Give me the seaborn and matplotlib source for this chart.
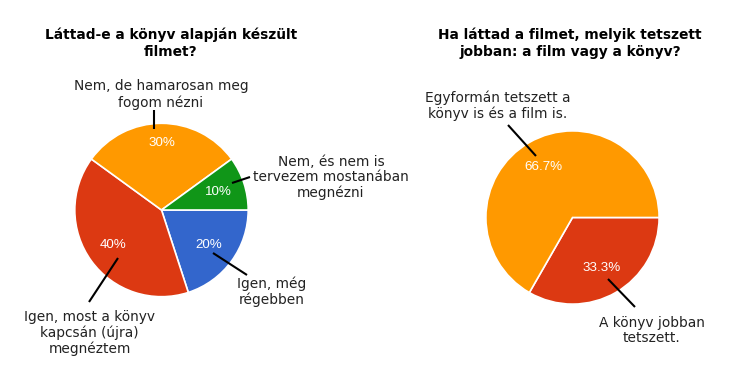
import math
import matplotlib
matplotlib.use("Agg")
import matplotlib.pyplot as plt
import seaborn as sns

# ---- data ----
q1_title = "Láttad-e a könyv alapján készült\nfilmet?"
q1_labels = ["Igen, még\nrégebben",
             "Igen, most a könyv\nkapcsán (újra)\nmegnéztem",
             "Nem, de hamarosan meg\nfogom nézni",
             "Nem, és nem is\ntervezem mostanában\nmegnézni"]
q1_values = [20, 40, 30, 10]
q1_colors = ["#3366CC", "#DC3912", "#FF9900", "#109618"]

q2_title = "Ha láttad a filmet, melyik tetszett\njobban: a film vagy a könyv?"
q2_labels = ["A könyv jobban\ntetszett.",
             "Egyformán tetszett a\nkönyv is és a film is."]
q2_values = [33.3, 66.7]
q2_colors = ["#DC3912", "#FF9900"]

# ---- layout (pixels, y down) ----
W, H = 735, 385
sns.set_theme(style="white")
plt.rcParams['font.family'] = ['DejaVu Sans']

fig = plt.figure(figsize=(W / 100, H / 100), dpi=100)
ax = fig.add_axes([0, 0, 1, 1])


def P(x, y):
    return (x, H - y)


charts = [
    dict(title=q1_title, title_pos=(171, 43.5), values=q1_values, labels=q1_labels,
         colors=q1_colors, center=(161.5, 210), r=86.7, fmt="%.0f%%",
         pct_dist=[0.68, 0.69, 0.77, 0.69],
         label_pos=[(272, 292), (89.5, 333), (161, 94.5), (331, 177.5)],
         leaders=[((213, 253), (247, 275)), ((118, 258), (89, 302)),
                  ((154.5, 110), (154.5, 129)), ((232, 183), (250, 177))]),
    dict(title=q2_title, title_pos=(570, 43.5), values=q2_values, labels=q2_labels,
         colors=q2_colors, center=(572.5, 217.5), r=86.6, fmt="%.1f%%",
         pct_dist=[0.67, 0.67],
         label_pos=[(652, 330.5), (498, 105.5)],
         leaders=[((608, 279), (635, 307)), ((508, 125), (536, 156))]),
]

for c in charts:
    wedges, _, autotexts = ax.pie(
        c["values"], colors=c["colors"], startangle=0, counterclock=False,
        center=P(*c["center"]), radius=c["r"], autopct=c["fmt"],
        pctdistance=0.68, wedgeprops=dict(edgecolor="white", linewidth=1.2),
        textprops=dict(color="white", fontsize=9.6, family="Liberation Sans"))
    cx, cy = P(*c["center"])
    for w, t, d in zip(wedges, autotexts, c["pct_dist"]):
        ang = math.radians((w.theta1 + w.theta2) / 2)
        t.set_position((cx + d * c["r"] * math.cos(ang), cy + d * c["r"] * math.sin(ang)))
        t.set_va("center")
        t.set_ha("center")
    for lab, pos in zip(c["labels"], c["label_pos"]):
        ax.text(*P(*pos), lab, ha="center", va="center", fontsize=9.9,
                color="#222222", linespacing=1.15)
    for (a, b) in c["leaders"]:
        ax.plot([P(*a)[0], P(*b)[0]], [P(*a)[1], P(*b)[1]], color="black", lw=1.5,
                solid_capstyle="butt")
    ax.text(*P(*c["title_pos"]), c["title"], ha="center", va="center",
            fontsize=9.9, fontweight="bold", color="black", linespacing=1.25)

ax.set_xlim(0, W)
ax.set_ylim(0, H)
ax.set_aspect("auto")
ax.axis("off")
fig.savefig("out.png", dpi=100, facecolor="white")
